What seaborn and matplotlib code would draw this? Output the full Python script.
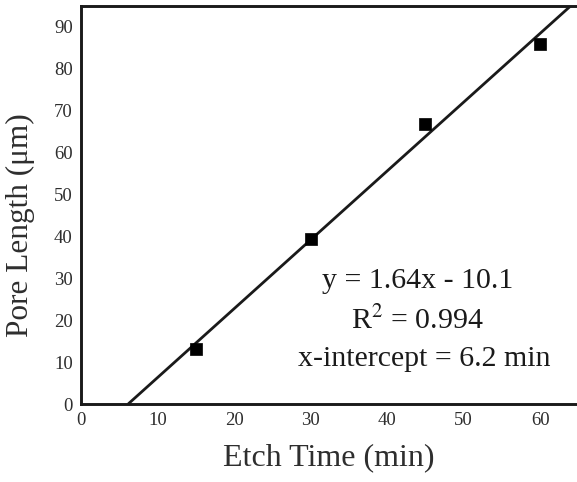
import matplotlib
matplotlib.use("Agg")
import matplotlib.pyplot as plt
import seaborn as sns
import numpy as np
import pandas as pd

# Measured pore length versus etch time
etch_time = [15, 30, 45, 60]
pore_length = [13.2, 39.2, 66.6, 85.8]

# Linear fit reported on the chart
slope = 1.64
intercept = -10.1
x_intercept = 6.2
fit_x_end = 66.0

x_ticks = [0, 10, 20, 30, 40, 50, 60]
y_ticks = [0, 10, 20, 30, 40, 50, 60, 70, 80, 90]

sns.set_theme(style="white")
plt.rcParams["font.family"] = ["Liberation Serif", "DejaVu Serif"]
plt.rcParams["mathtext.fontset"] = "stix"

ink = "#1a1a1a"

fig = plt.figure(figsize=(5.77, 4.82), dpi=100)
ax = fig.add_axes([0.1404, 0.1618, 0.8596, 0.8258])

points = pd.DataFrame({"Etch Time (min)": etch_time, "Pore Length": pore_length})
fit_x = np.array([x_intercept, fit_x_end])
fit = pd.DataFrame({"x": fit_x, "y": slope * fit_x + intercept})

sns.lineplot(data=fit, x="x", y="y", ax=ax, color=ink, linewidth=2.0)
sns.scatterplot(data=points, x="Etch Time (min)", y="Pore Length", ax=ax,
                marker="s", s=85, color="black", edgecolor="black", linewidth=0.5,
                zorder=5)

ax.set_xlim(0, 64.8)
ax.set_ylim(0, 94.8)
ax.set_xticks(x_ticks)
ax.set_yticks(y_ticks)
ax.tick_params(direction="in", length=5.5, width=2.0, colors=ink,
               labelsize=13.5, pad=6)
for lab in ax.get_xticklabels() + ax.get_yticklabels():
    lab.set_color("#2e2e2e")

for side in ["left", "bottom", "top"]:
    ax.spines[side].set_linewidth(2.1)
    ax.spines[side].set_color(ink)
ax.spines["right"].set_visible(False)

ax.set_xlabel("Etch Time (min)", fontsize=23, color="#2e2e2e", labelpad=10)
ax.set_ylabel("Pore Length (μm)", fontsize=22.5, color="#2e2e2e")
ax.yaxis.set_label_coords(-0.123, 0.45)
ax.yaxis.label.set_va("center")

ax.text(44.0, 29.2, "y = 1.64x - 10.1", fontsize=21.5, color=ink,
        ha="center", va="center")
ax.text(44.0, 19.9, r"R$^2$ = 0.994", fontsize=21.5, color=ink,
        ha="center", va="center")
ax.text(44.9, 10.7, "x-intercept = 6.2 min", fontsize=21.5, color=ink,
        ha="center", va="center")

fig.savefig("out.png", dpi=100)
